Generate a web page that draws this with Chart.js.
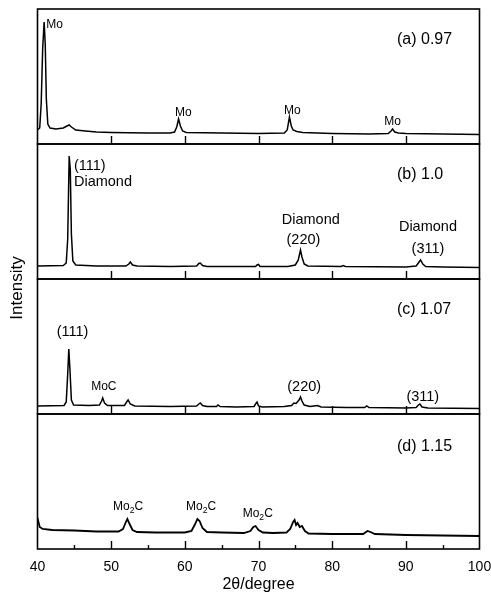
<!DOCTYPE html>
<html>
<head>
<meta charset="utf-8">
<script src="https://cdn.jsdelivr.net/npm/chart.js@4/dist/chart.umd.min.js"></script>
<style>
  html, body { margin: 0; padding: 0; background: #fff; }
  canvas { display: block; }
</style>
</head>
<body>
<canvas id="xrd" width="491" height="596"></canvas>
<script>
// 2θ range and tick marks
const xRange = [40, 100];
const xLabelTicks = [40, 50, 60, 70, 80, 90, 100];
const majorTicks = [50, 60, 70, 80, 90];
const minorTicks = [45, 55, 65, 75, 85, 95];

// Panel captions (top to bottom)
const panelNames = ['(a) 0.97', '(b) 1.0', '(c) 1.07', '(d) 1.15'];

// XRD scans, [2θ, intensity (a.u.)]
const scanA = [
  [40.0, 14], [40.3, 16], [40.5, 40], [40.7, 95], [40.9, 122], [41.05, 100], [41.2, 45],
  [41.4, 20], [41.7, 16], [42.5, 15], [43.5, 16], [44.0, 18], [44.3, 19], [44.6, 17],
  [45.2, 14], [46.5, 13], [48.0, 12], [50.0, 11.5], [55.0, 11], [58.0, 11], [58.6, 12],
  [58.9, 17], [59.15, 25], [59.4, 18], [59.7, 13], [60.2, 11.5], [65.0, 11], [70.0, 10.5],
  [73.5, 11], [73.9, 14], [74.2, 27], [74.45, 18], [74.7, 14], [75.2, 12.5], [76.0, 11.5],
  [80.0, 10.5], [85.0, 10], [87.6, 10.5], [88.0, 13], [88.2, 15], [88.5, 12], [89.0, 11],
  [90.0, 10.5], [95.0, 10], [100.0, 9.5]
];
const scanB = [
  [40.0, 13], [43.5, 13.5], [43.9, 16], [44.1, 40], [44.3, 123], [44.45, 110], [44.6, 45],
  [44.8, 18], [45.2, 14], [48.0, 13], [52.0, 13], [52.4, 15], [52.6, 17], [52.9, 14],
  [53.5, 13], [58.0, 12.5], [61.6, 13], [61.9, 15.5], [62.1, 16], [62.4, 13.5], [63.0, 12.5],
  [67.0, 12.5], [69.6, 12.5], [69.8, 14], [70.0, 14.5], [70.2, 12.5], [74.0, 12.5],
  [75.0, 14], [75.4, 19], [75.7, 29], [75.9, 22], [76.2, 15], [76.7, 13], [81.2, 12.5],
  [81.5, 13.5], [81.8, 12.5], [90.0, 12], [91.4, 13], [91.8, 17], [92.0, 19], [92.3, 15],
  [92.7, 12.5], [95.0, 12], [100.0, 11.5]
];
const scanC = [
  [40.0, 8], [43.6, 8.5], [43.9, 12], [44.1, 40], [44.25, 65], [44.4, 45], [44.6, 14],
  [44.9, 9], [47.0, 8.5], [48.4, 9], [48.7, 13], [48.85, 16], [49.1, 11], [49.5, 8.5],
  [51.8, 8.5], [52.1, 12], [52.3, 14], [52.6, 10], [53.2, 8], [58.0, 7.5], [61.6, 8],
  [61.9, 10], [62.1, 11], [62.4, 8.5], [63.0, 7.5], [64.3, 7.5], [64.5, 9], [64.8, 7.5],
  [67.0, 7], [69.4, 7.5], [69.6, 10], [69.8, 12], [70.0, 8], [70.5, 7], [73.5, 7.5],
  [74.5, 8.5], [74.8, 11], [75.1, 10.5], [75.5, 14], [75.7, 17], [75.9, 13], [76.2, 9],
  [77.0, 7.5], [78.0, 8.5], [78.5, 7], [82.0, 6.5], [84.4, 6.5], [84.7, 8], [85.0, 6.5],
  [90.0, 6], [91.4, 6.5], [91.7, 9], [91.9, 10], [92.2, 7], [93.0, 6], [100.0, 5.5]
];
const scanD = [
  [40.0, 31], [40.1, 28], [40.3, 22], [40.7, 20], [42.0, 19], [45.0, 18.5], [48.0, 17.5],
  [51.0, 17.5], [51.6, 20], [52.0, 27], [52.2, 30], [52.5, 25], [52.9, 19], [53.5, 17],
  [56.0, 16.5], [60.0, 16.5], [60.9, 18], [61.4, 25], [61.7, 30], [62.0, 28], [62.4, 21],
  [63.0, 17], [65.0, 16.5], [68.0, 16], [68.9, 18], [69.3, 22], [69.6, 23], [70.0, 19],
  [70.6, 16.5], [72.0, 16], [73.8, 16.5], [74.3, 20], [74.7, 27], [74.9, 29], [75.1, 24],
  [75.3, 26], [75.6, 22], [75.9, 23], [76.3, 18], [76.8, 15.5], [80.0, 15], [84.2, 15],
  [84.8, 18], [85.2, 17], [85.8, 15], [90.0, 14], [95.0, 13.5], [100.0, 13]
];
const scans = [scanA, scanB, scanC, scanD];
const panelIds = ['ya', 'yb', 'yc', 'yd'];

// Peak assignments: panel, 2θ, intensity, text, alignment, style
const peakLabels = [
  ['ya', 41.2, 119, 'Mo', 'left', 'small'],
  ['ya', 59.8, 31.5, 'Mo', 'center', 'small'],
  ['ya', 74.6, 33.5, 'Mo', 'center', 'small'],
  ['ya', 88.2, 22, 'Mo', 'center', 'small'],
  ['yb', 44.95, 113, '(111)', 'left', 'peak'],
  ['yb', 44.95, 97, 'Diamond', 'left', 'peak'],
  ['yb', 77.1, 59, 'Diamond', 'center', 'peak'],
  ['yb', 76.1, 39, '(220)', 'center', 'peak'],
  ['yb', 93.0, 52, 'Diamond', 'center', 'peak'],
  ['yb', 93.0, 30, '(311)', 'center', 'peak'],
  ['yc', 44.75, 82, '(111)', 'center', 'peak'],
  ['yc', 49.0, 27, 'MoC', 'center', 'small'],
  ['yc', 76.2, 27.5, '(220)', 'center', 'peak'],
  ['yc', 92.3, 17.5, '(311)', 'center', 'peak'],
  ['yd', 52.3, 42, 'Mo2C', 'center', 'small'],
  ['yd', 62.2, 42, 'Mo2C', 'center', 'small'],
  ['yd', 69.9, 35, 'Mo2C', 'center', 'small']
];

const FAMILY = '"Liberation Sans", Arial, Helvetica, sans-serif';
const fontSizes = { small: 12, peak: 14.5, panel: 16 };

function drawFormula(ctx, text, x, y, align, size) {
  // "Mo2C" gets a subscript 2
  if (text === 'Mo2C') {
    const big = size + 'px ' + FAMILY, sub = (size * 0.72) + 'px ' + FAMILY;
    ctx.font = big; const w1 = ctx.measureText('Mo').width, w3 = ctx.measureText('C').width;
    ctx.font = sub; const w2 = ctx.measureText('2').width;
    const total = w1 + w2 + w3;
    const left = align === 'center' ? x - total / 2 : x;
    ctx.textAlign = 'left';
    ctx.font = big; ctx.fillText('Mo', left, y);
    ctx.font = sub; ctx.fillText('2', left + w1, y + size * 0.3);
    ctx.font = big; ctx.fillText('C', left + w1 + w2, y);
    return;
  }
  ctx.font = size + 'px ' + FAMILY;
  ctx.textAlign = align;
  ctx.fillText(text, x, y);
}

const xrdDecor = {
  id: 'xrdDecor',
  afterDraw(chart) {
    const { ctx, chartArea, scales } = chart;
    const xs = scales.x;
    ctx.save();
    ctx.fillStyle = '#000';
    ctx.strokeStyle = '#000';
    ctx.textBaseline = 'middle';

    panelIds.forEach((id, i) => {
      const s = scales[id];
      // panel frame
      ctx.lineWidth = 1.6;
      ctx.strokeRect(chartArea.left, s.top, chartArea.right - chartArea.left, s.bottom - s.top);
      // inward ticks on the panel's lower edge
      ctx.lineWidth = 1.4;
      ctx.beginPath();
      majorTicks.forEach(v => {
        const px = Math.round(xs.getPixelForValue(v)) + 0.5;
        ctx.moveTo(px, s.bottom); ctx.lineTo(px, s.bottom - 8);
      });
      if (i === panelIds.length - 1) {
        minorTicks.forEach(v => {
          const px = Math.round(xs.getPixelForValue(v)) + 0.5;
          ctx.moveTo(px, s.bottom); ctx.lineTo(px, s.bottom - 4);
        });
      }
      ctx.stroke();
      // panel caption
      drawFormula(ctx, panelNames[i], xs.getPixelForValue(88.8), s.top + (i === 3 ? 33 : 31), 'left', fontSizes.panel);
    });

    peakLabels.forEach(([id, x, y, text, align, style]) => {
      const s = scales[id];
      drawFormula(ctx, text, xs.getPixelForValue(x), s.getPixelForValue(y), align, fontSizes[style]);
    });

    // vertical axis title
    ctx.save();
    ctx.translate(chartArea.left - 20, (chartArea.top + chartArea.bottom) / 2 + 9);
    ctx.rotate(-Math.PI / 2);
    ctx.font = '17px ' + FAMILY;
    ctx.textAlign = 'center';
    ctx.fillText('Intensity', 0, 0);
    ctx.restore();
    ctx.restore();
  }
};

const panelScale = (order) => ({
  type: 'linear',
  position: 'left',
  stack: 'xrd',
  stackWeight: 1,
  weight: order,
  min: 0,
  max: 135,
  display: false
});

new Chart(document.getElementById('xrd'), {
  type: 'line',
  data: {
    datasets: scans.map((scan, i) => ({
      label: panelNames[i],
      data: scan.map(([x, y]) => ({ x, y })),
      yAxisID: panelIds[i],
      borderColor: '#000',
      borderWidth: i === 3 ? 1.8 : 1.5,
      pointRadius: 0,
      tension: 0,
      fill: false
    }))
  },
  options: {
    responsive: false,
    animation: false,
    devicePixelRatio: 1,
    layout: { autoPadding: false, padding: { left: 37.5, right: 11.5, top: 9, bottom: 0 } },
    plugins: { legend: { display: false }, tooltip: { enabled: false } },
    scales: {
      x: {
        type: 'linear',
        min: xRange[0],
        max: xRange[1],
        afterBuildTicks: (axis) => { axis.ticks = xLabelTicks.map(v => ({ value: v })); },
        // the end labels may overhang the plot edges
        afterFit: (axis) => { axis.paddingLeft = 0; axis.paddingRight = 0; },
        ticks: { color: '#000', font: { family: FAMILY, size: 14 }, padding: 10, maxRotation: 0 },
        grid: { display: false, drawTicks: false },
        border: { display: false },
        title: {
          display: true,
          text: '2θ/degree',
          color: '#000',
          font: { family: FAMILY, size: 16 },
          padding: { top: -11, bottom: 2 }
        }
      },
      ya: panelScale(4),
      yb: panelScale(3),
      yc: panelScale(2),
      yd: panelScale(1)
    }
  },
  plugins: [xrdDecor]
});
</script>
</body>
</html>
